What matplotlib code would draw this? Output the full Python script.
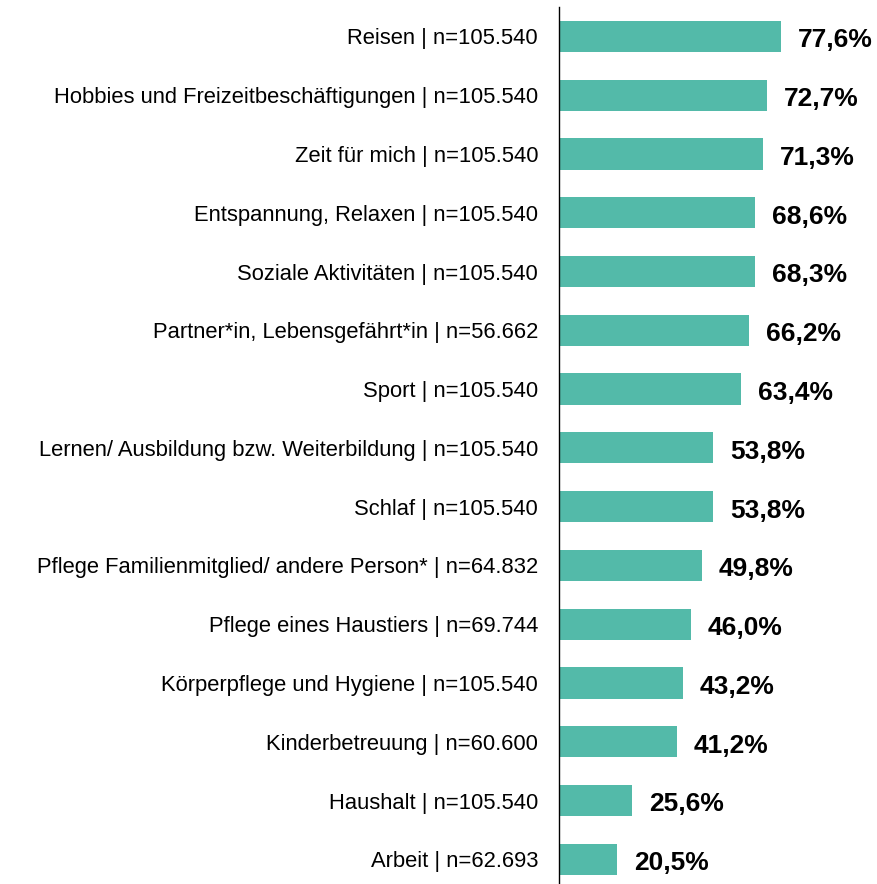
import matplotlib.pyplot as plt

plt.rcParams['font.family'] = ['Liberation Sans', 'DejaVu Sans']

categories = [
    "Reisen | n=105.540",
    "Hobbies und Freizeitbeschäftigungen | n=105.540",
    "Zeit für mich | n=105.540",
    "Entspannung, Relaxen | n=105.540",
    "Soziale Aktivitäten | n=105.540",
    "Partner*in, Lebensgefährt*in | n=56.662",
    "Sport | n=105.540",
    "Lernen/ Ausbildung bzw. Weiterbildung | n=105.540",
    "Schlaf | n=105.540",
    "Pflege Familienmitglied/ andere Person* | n=64.832",
    "Pflege eines Haustiers | n=69.744",
    "Körperpflege und Hygiene | n=105.540",
    "Kinderbetreuung | n=60.600",
    "Haushalt | n=105.540",
    "Arbeit | n=62.693",
]
values = [77.6, 72.7, 71.3, 68.6, 68.3, 66.2, 63.4, 53.8, 53.8, 49.8, 46.0, 43.2, 41.2, 25.6, 20.5]

W, H = 877, 884
fig = plt.figure(figsize=(W / 100, H / 100), dpi=100)
ax = fig.add_axes([558.6 / W, 0, 287 / W, (H - 7) / H])

y = list(range(len(values)))
ax.barh(y, values, height=0.53, color='#53BAA9')

for yi, v in zip(y, values):
    ax.annotate(f"{v:.1f}%".replace('.', ','), (v, yi), xytext=(12.2, -1),
                textcoords='offset points', va='center_baseline', ha='left',
                fontsize=19, fontweight='bold', annotation_clip=False)

ax.set_xlim(0, 100)
ax.set_ylim(14.42, -0.5)
ax.set_yticks(y)
ax.set_yticklabels(categories, fontsize=15.8)
ax.tick_params(axis='y', length=0, pad=14.8)
ax.set_xticks([])
for s in ['top', 'right', 'bottom']:
    ax.spines[s].set_visible(False)
ax.spines['left'].set_linewidth(1.0)

fig.savefig('out.png', dpi=100)
